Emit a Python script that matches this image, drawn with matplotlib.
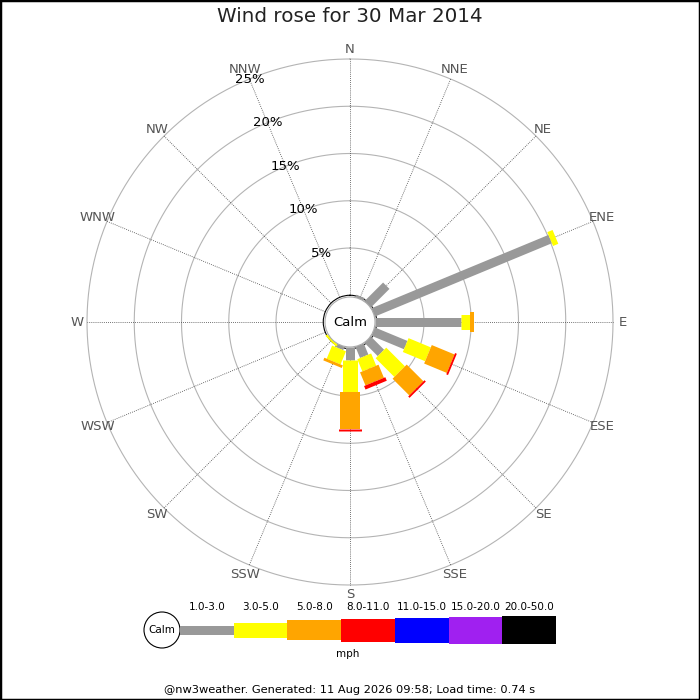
import numpy as np
import matplotlib
matplotlib.use("Agg")
import matplotlib.pyplot as plt
from matplotlib.patches import Circle, Rectangle

# ---------------- data ----------------
directions = ['N', 'NNE', 'NE', 'ENE', 'E', 'ESE', 'SE', 'SSE',
              'S', 'SSW', 'SW', 'WSW', 'W', 'WNW', 'NW', 'NNW']
speed_bins = ['1.0-3.0', '3.0-5.0', '5.0-8.0', '8.0-11.0',
              '11.0-15.0', '15.0-20.0', '20.0-50.0']
# percent of time per direction, per speed bin (mph)
pct_1_3 = [0, 0.3, 2.8, 20.3, 9.15, 3.75, 2.0, 1.3, 1.4, 0.4, 0.0, 0, 0, 0, 0, 0]
pct_3_5 = [0, 0, 0, 0.6, 0.95, 2.55, 2.8, 1.4, 3.4, 1.5, 0.25, 0, 0, 0, 0, 0]
pct_5_8 = [0, 0, 0, 0, 0.4, 2.6, 2.5, 1.5, 3.9, 0.3, 0, 0, 0, 0, 0, 0]
pct_8_11 = [0, 0, 0, 0, 0, 0.2, 0.2, 0.4, 0.25, 0, 0, 0, 0, 0, 0, 0]
pct_11_15 = [0] * 16
pct_15_20 = [0] * 16
pct_20_50 = [0] * 16
ring_levels = [5, 10, 15, 20, 25]
title = 'Wind rose for 30 Mar 2014'
footer = '@nw3weather. Generated: 11 Aug 2026 09:58; Load time: 0.74 s'

series = [pct_1_3, pct_3_5, pct_5_8, pct_8_11, pct_11_15, pct_15_20, pct_20_50]
colors = ['#999999', '#ffff00', '#ffa500', '#ff0000', '#0000ff', '#a020f0', '#000000']
widths_px = [9, 15, 20, 23, 25, 27, 28]

# ---------------- figure ----------------
W = H = 700
fig = plt.figure(figsize=(7, 7), dpi=100)
fig.patch.set_facecolor('white')

cx, cy = 350, 322          # centre in pixels (from top)
R_px = 263                 # outer ring radius in pixels
ax = fig.add_axes([(cx - R_px) / W, (H - cy - R_px) / H, 2 * R_px / W, 2 * R_px / H],
                  projection='polar')
ax.set_theta_zero_location('N')
ax.set_theta_direction(-1)
ax.set_ylim(0, 25)
ax.set_rorigin(-2.83)
ax.grid(False)
ax.set_xticks([])
ax.set_yticks([])
for sp in ax.spines.values():
    sp.set_visible(False)
ax.patch.set_alpha(0)

thetas = np.deg2rad(np.arange(16) * 22.5)

# rings
tt = np.linspace(0, 2 * np.pi, 400)
for lv in ring_levels:
    ax.plot(tt, np.full_like(tt, lv), color='#b4b4b4', lw=0.8, zorder=1, clip_on=False)
# spokes
for th in thetas:
    ax.plot([th, th], [0, 25], color='#444444', lw=0.6, ls=(0, (1, 1.5)), zorder=1,
            clip_on=False)

# stacked bars
start = np.full(16, -0.2)
for vals, col, wpx in zip(series, colors, widths_px):
    vals = np.asarray(vals, dtype=float)
    for th, s, v in zip(thetas, start, vals):
        if v > 0:
            ax.plot([th, th], [s, s + v], color=col, lw=wpx * 0.72,
                    solid_capstyle='butt', zorder=3, clip_on=False)
    start = start + vals

# calm circle
calm_r = 25 / (2 * R_px)
ax.add_patch(Circle((0.5, 0.5), calm_r, transform=ax.transAxes, facecolor='white',
                    edgecolor='#aaaaaa', lw=0.8, zorder=5, clip_on=False))
ax.text(0.5, 0.5, 'Calm', transform=ax.transAxes, ha='center', va='center',
        fontsize=9.5, color='black', zorder=6)

# direction labels
for th, d in zip(thetas, directions):
    ax.text(th, 26.05, d, ha='center', va='center', fontsize=9.5, color='#555555',
            clip_on=False, zorder=4)
# ring labels along NNW
for lv in ring_levels:
    ax.text(np.deg2rad(337.5), lv, f'{lv}%', ha='center', va='center', fontsize=9.5,
            color='black', clip_on=False, zorder=4)

# ---------------- overlay: title, legend, footer ----------------
ov = fig.add_axes([0, 0, 1, 1])
ov.set_xlim(0, W)
ov.set_ylim(H, 0)
ov.axis('off')
ov.patch.set_alpha(0)

ov.text(350, 17, title, ha='center', va='center', fontsize=14.3, color='#222222')

leg_y = 630
x0, bw = 180, 53.7
ov.add_patch(Circle((162, leg_y), 18, facecolor='white', edgecolor='black', lw=0.8))
ov.text(162, leg_y, 'Calm', ha='center', va='center', fontsize=7.5)
for i, (lab, col, wpx) in enumerate(zip(speed_bins, colors, widths_px)):
    ov.add_patch(Rectangle((x0 + i * bw, leg_y - wpx / 2), bw, wpx, facecolor=col,
                           edgecolor='none'))
    ov.text(x0 + i * bw + bw / 2, 607, lab, ha='center', va='center', fontsize=7.5)
ov.text(348, 654, 'mph', ha='center', va='center', fontsize=7.5)
ov.text(350, 690, footer, ha='center', va='center', fontsize=8.2)

# border
fig.add_artist(Rectangle((0, 0), 1, 1, transform=fig.transFigure, fill=False,
                         edgecolor='black', lw=2.5))

fig.savefig('out.png', dpi=100)
